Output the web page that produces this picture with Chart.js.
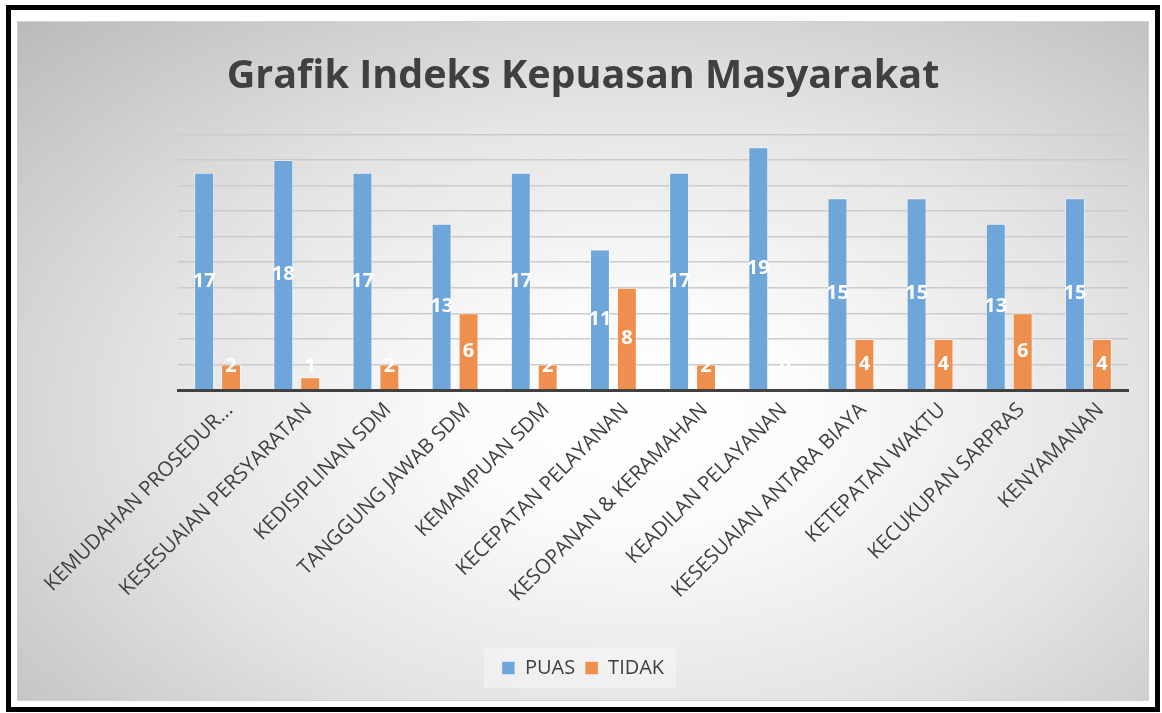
<!DOCTYPE html>
<html>
<head>
<meta charset="utf-8">
<script src="https://cdn.jsdelivr.net/npm/chart.js@4.4.1/dist/chart.umd.min.js"></script>
<style>
  html, body { margin: 0; padding: 0; background: #fff; }
  #frame {
    position: absolute; left: 6px; top: 5px;
    width: 1144px; height: 697px;
    border: 5px solid #000; background: #fff;
  }
  #wrap {
    position: absolute; left: 18px; top: 22px;
    width: 1130px; height: 678px;
    box-shadow: 0 0 0 1px #d0d0d0;
    background: radial-gradient(ellipse farthest-corner at 55% 58%, #ffffff 0%, #fbfbfb 20%, #e4e4e4 55%, #bababa 100%);
  }
</style>
</head>
<body>
<div id="frame"></div>
<div id="wrap"><canvas id="myChart"></canvas></div>
<script>
// Categories (x axis)
const categories = [
  "KEMUDAHAN PROSEDUR...",
  "KESESUAIAN PERSYARATAN",
  "KEDISIPLINAN SDM",
  "TANGGUNG JAWAB SDM",
  "KEMAMPUAN SDM",
  "KECEPATAN PELAYANAN",
  "KESOPANAN & KERAMAHAN",
  "KEADILAN PELAYANAN",
  "KESESUAIAN ANTARA BIAYA",
  "KETEPATAN WAKTU",
  "KECUKUPAN SARPRAS",
  "KENYAMANAN",
];

// Series values
const puasValues = [17, 18, 17, 13, 17, 11, 17, 19, 15, 15, 13, 15];
const tidakValues = [2, 1, 2, 6, 2, 8, 2, 0, 4, 4, 6, 4];

const textColor = "#404040";

// white value labels in the middle of each bar (like Excel "center" labels)
const barLabels = {
  id: "bar_labels",
  afterDatasetsDraw(chart) {
    const { ctx } = chart;
    ctx.save();
    ctx.font = 'bold 20px "Open Sans"';
    ctx.fillStyle = "#ffffff";
    ctx.textAlign = "center";
    ctx.textBaseline = "middle";
    chart.data.datasets.forEach((ds, i) => {
      chart.getDatasetMeta(i).data.forEach((bar, j) => {
        const mid = (bar.y + bar.base) / 2;
        // keep the label above the axis line for short bars
        ctx.fillText(ds.data[j], bar.x, Math.min(mid, bar.base - 23));
      });
    });
    ctx.restore();
  },
};

// faint box behind the legend
const legendBox = {
  id: "legend_box",
  beforeDraw(chart) {
    const boxes = chart.legend && chart.legend.legendHitBoxes;
    if (!boxes || !boxes.length) return;
    const left = Math.min(...boxes.map((b) => b.left)) - 18;
    const right = Math.max(...boxes.map((b) => b.left + b.width)) + 12;
    const top = Math.min(...boxes.map((b) => b.top)) - 10;
    const bottom = Math.max(...boxes.map((b) => b.top + b.height)) + 10;
    const { ctx } = chart;
    ctx.save();
    ctx.fillStyle = "rgba(255,255,255,0.35)";
    ctx.fillRect(left, top, right - left, bottom - top);
    ctx.restore();
  },
};

const chart = new Chart(document.getElementById("myChart"), {
  type: "bar",
  data: {
    labels: categories,
    datasets: [
      {
        label: "PUAS",
        data: puasValues,
        backgroundColor: "rgb(111,166,218)",
        borderColor: "rgba(255,255,255,0.45)",
        borderWidth: 1,
        barPercentage: 0.74,
        categoryPercentage: 0.68,
      },
      {
        label: "TIDAK",
        data: tidakValues,
        backgroundColor: "rgb(239,143,77)",
        borderColor: "rgba(255,255,255,0.45)",
        borderWidth: 1,
        barPercentage: 0.74,
        categoryPercentage: 0.68,
      },
    ],
  },
  options: {
    responsive: true,
    maintainAspectRatio: false,
    animation: false,
    layout: {
      padding: { left: 0, right: 0, top: 0, bottom: 12 },
    },
    scales: {
      x: {
        grid: { display: false, drawTicks: false },
        border: { display: true, color: "#404040", width: 3 },
        ticks: {
          color: textColor,
          font: { family: "Open Sans", size: 20.5 },
          minRotation: 45,
          maxRotation: 45,
          autoSkip: false,
          padding: 8,
          labelOffset: 12,
        },
        afterFit(scale) {
          scale.height = 258;
        },
      },
      y: {
        min: 0,
        max: 20,
        ticks: { display: false, stepSize: 2 },
        grid: { color: "#cbcbcb", lineWidth: 1.5, drawTicks: false },
        border: { display: false },
        afterFit(scale) {
          scale.width = 160;
        },
      },
      // empty right-hand axis, only keeps the plot off the right edge
      yRight: {
        position: "right",
        ticks: { display: false },
        grid: { display: false, drawTicks: false },
        border: { display: false },
        afterFit(scale) {
          scale.width = 20;
        },
      },
    },
    plugins: {
      title: {
        display: true,
        text: "Grafik Indeks Kepuasan Masyarakat",
        color: textColor,
        font: { family: "Open Sans", size: 39.5, weight: "bold" },
        padding: { top: 31, bottom: 34 },
      },
      legend: {
        display: true,
        position: "bottom",
        labels: {
          color: textColor,
          font: { family: "Open Sans", size: 20 },
          boxWidth: 13,
          boxHeight: 13,
          padding: 10,
        },
      },
      tooltip: { enabled: false },
    },
  },
  plugins: [barLabels, legendBox],
});
</script>
</body>
</html>
